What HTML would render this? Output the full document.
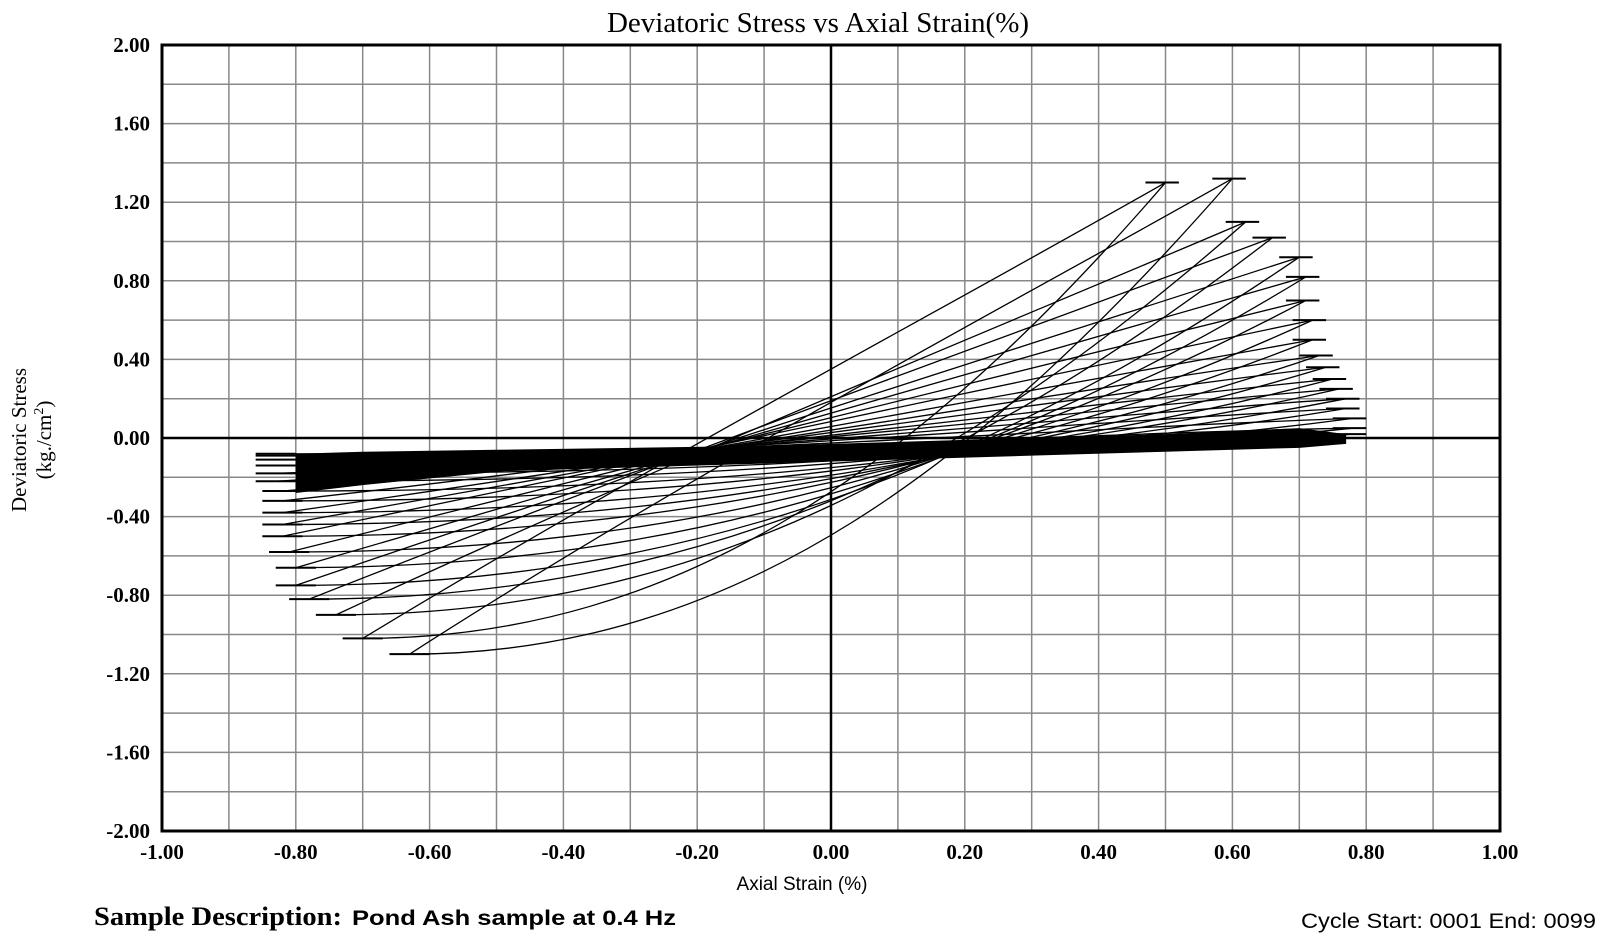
<!DOCTYPE html>
<html><head><meta charset="utf-8"><style>
html,body{margin:0;padding:0;background:#fff;width:1604px;height:943px;overflow:hidden}
svg{display:block}
</style></head><body>
<svg id="chart" width="1604" height="943" xmlns="http://www.w3.org/2000/svg">
<text x="818" y="32" text-anchor="middle" font-family="Liberation Serif, serif" font-size="29">Deviatoric Stress vs Axial Strain(%)</text>
<g id="grid"></g>
<g id="plot"></g>
<g id="axes"></g>
<text x="802" y="890" text-anchor="middle" font-family="Liberation Sans, sans-serif" font-size="19">Axial Strain (%)</text>
<g transform="translate(26,440) rotate(-90)">
<text x="0" y="0" text-anchor="middle" font-family="Liberation Serif, serif" font-size="21">Deviatoric Stress</text>
<text x="0" y="25" text-anchor="middle" font-family="Liberation Serif, serif" font-size="21">(kg./cm<tspan font-size="14" dy="-8">2</tspan><tspan dy="8">)</tspan></text>
</g>
<text x="94" y="925" font-family="Liberation Serif, serif" font-weight="bold" font-size="26" textLength="248" lengthAdjust="spacingAndGlyphs">Sample Description:</text>
<text x="352" y="925" font-family="Liberation Sans, sans-serif" font-weight="bold" font-size="21" textLength="324" lengthAdjust="spacingAndGlyphs">Pond Ash sample at 0.4 Hz</text>
<text x="1596" y="928" text-anchor="end" font-family="Liberation Sans, sans-serif" font-size="21" textLength="295" lengthAdjust="spacingAndGlyphs">Cycle  Start: 0001 End: 0099</text>
</svg>
<script>
const xTicks = [-1.0,-0.8,-0.6,-0.4,-0.2,0.0,0.2,0.4,0.6,0.8,1.0];
const yTicks = [2.0,1.6,1.2,0.8,0.4,0.0,-0.4,-0.8,-1.2,-1.6,-2.0];
const posStrain = [0.60,0.50,0.62,0.66,0.70,0.71,0.71,0.72,0.72,0.73,0.74,0.75,0.76,0.77,0.77,0.78,0.78,0.78];
const posStress = [1.32,1.30,1.10,1.02,0.92,0.82,0.70,0.60,0.50,0.42,0.36,0.30,0.25,0.20,0.15,0.10,0.05,0.02];
const negStrain = [-0.63,-0.70,-0.74,-0.78,-0.80,-0.80,-0.81,-0.82,-0.82,-0.82,-0.82,-0.82,-0.83,-0.83,-0.83,-0.83,-0.83,-0.83];
const negStress = [-1.10,-1.02,-0.90,-0.82,-0.75,-0.66,-0.58,-0.50,-0.44,-0.38,-0.32,-0.27,-0.22,-0.18,-0.14,-0.11,-0.09,-0.08];
const bandX = [-0.80,-0.70,-0.50,-0.30,-0.10,0.10,0.30,0.50,0.70,0.77];
const bandTop = [-0.08,-0.07,-0.06,-0.05,-0.04,-0.02,0.00,0.02,0.05,0.02];
const bandBottom = [-0.28,-0.24,-0.17,-0.15,-0.13,-0.11,-0.09,-0.07,-0.05,-0.03];

const L=162,R=1500,T=45,B=831;
const sx=v=>L+(v+1)/2*(R-L);
const sy=v=>T+(2-v)/4*(B-T);
const NS='http://www.w3.org/2000/svg';
function mk(tag,attrs,parent){const e=document.createElementNS(NS,tag);for(const k in attrs)e.setAttribute(k,attrs[k]);parent.appendChild(e);return e;}
const grid=document.getElementById('grid'),plot=document.getElementById('plot'),axes=document.getElementById('axes');
for(let i=0;i<=20;i++){const v=-1+i*0.1;const l=mk('line',{x1:sx(v),x2:sx(v),y1:T,y2:B,stroke:'#888','stroke-width':1.5},grid);

}
for(let i=0;i<=20;i++){const v=-2+i*0.2;const l=mk('line',{x1:L,x2:R,y1:sy(v),y2:sy(v),stroke:'#888','stroke-width':1.5},grid);

}
let d='M'+bandX.map((x,i)=>sx(x)+','+sy(bandTop[i])).join(' L');
for(let i=bandX.length-1;i>=0;i--)d+=' L'+sx(bandX[i])+','+sy(bandBottom[i]);
const band=mk('path',{d:d+'Z',fill:'#000'},plot);


for(let i=0;i<posStrain.length;i++){
  const xp=posStrain[i],yp=posStress[i],xn=negStrain[i],yn=negStress[i],W=xp-xn;
  const low=`M${sx(xn)},${sy(yn)} C${sx(xn+0.4*W)},${sy(yn)} ${sx(xp-0.3*W)},${sy(-0.12)} ${sx(xp)},${sy(yp)}`;
  const up=` C${sx(xp-0.25*W)},${sy(yp*0.55)} ${sx(xn+0.35*W)},${sy(yn*0.05-0.1)} ${sx(xn)},${sy(yn)}`;
  const p=mk('path',{d:low+up,fill:'none',stroke:'#000','stroke-width':1.3},plot);
  
  
  const s1=mk('line',{x1:sx(xn-0.03),x2:sx(xn+0.03),y1:sy(yn),y2:sy(yn),stroke:'#000','stroke-width':2},plot);
  
  
  const s2=mk('line',{x1:sx(xp-0.03),x2:sx(xp+0.02),y1:sy(yp),y2:sy(yp),stroke:'#000','stroke-width':2},plot);
  
  
}
const z1=mk('line',{x1:L,x2:R,y1:sy(0),y2:sy(0),stroke:'#000','stroke-width':2.5},axes);


const z2=mk('line',{x1:sx(0),x2:sx(0),y1:T,y2:B,stroke:'#000','stroke-width':2.5},axes);


const fr=mk('rect',{x:L,y:T,width:R-L,height:B-T,fill:'none',stroke:'#000','stroke-width':3},axes);


xTicks.forEach(v=>{const t=mk('text',{x:sx(v),y:B+28,'text-anchor':'middle','font-family':'Liberation Serif, serif','font-weight':'bold','font-size':21},axes);t.textContent=v.toFixed(2);

});
yTicks.forEach(v=>{const t=mk('text',{x:L-12,y:sy(v)+7,'text-anchor':'end','font-family':'Liberation Serif, serif','font-weight':'bold','font-size':21},axes);t.textContent=v.toFixed(2);

});
</script>
</body></html>
